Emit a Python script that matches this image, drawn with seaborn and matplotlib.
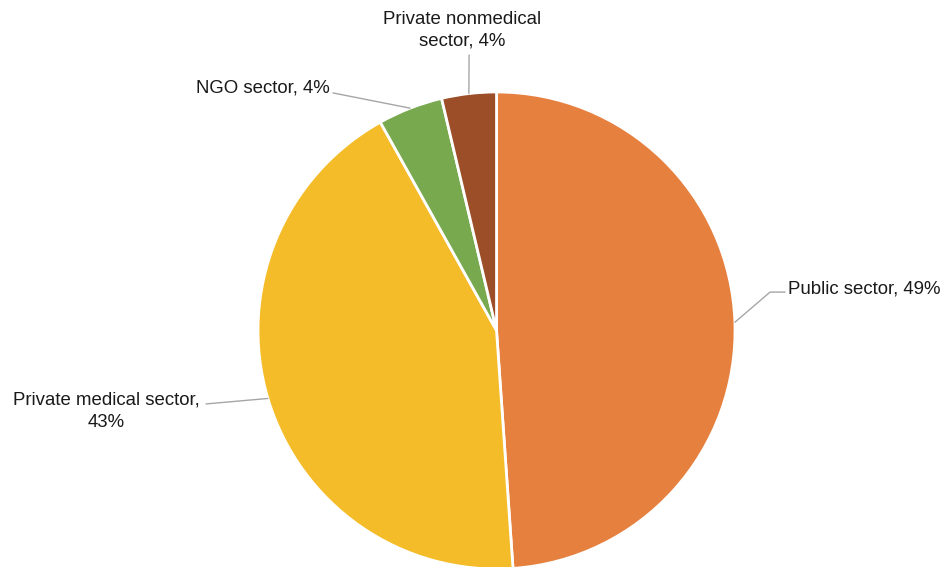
import numpy as np
import seaborn as sns
import matplotlib.pyplot as plt

# Share of sources (%)
sectors = ['Public sector', 'Private medical sector', 'NGO sector', 'Private nonmedical sector']
shares = [48.9, 43.0, 4.4, 3.7]
colors = ['#E6803F', '#F5BC2A', '#78A94F', '#9C4E29']

sns.set_theme(style='white')
plt.rcParams['font.family'] = ['Liberation Sans', 'DejaVu Sans']

fig = plt.figure(figsize=(9.42, 5.67), dpi=100)
ax = fig.add_axes([0.2739, -0.0035, 0.5064, 0.8413])

wedges, _ = ax.pie(shares, colors=colors, startangle=90, counterclock=False,
                   wedgeprops=dict(edgecolor='white', linewidth=2))
ax.set_xlim(-1, 1)
ax.set_ylim(-1, 1)
ax.set_aspect('equal')
ax.axis('off')

# label text, text anchor, leader line end points (in pie radius units)
label_text = [f"{s}, {round(v):.0f}%" for s, v in zip(sectors, shares)]
label_text[1] = f"Private medical sector,\n{round(shares[1]):.0f}%"
label_text[3] = f"Private nonmedical\nsector, {round(shares[3]):.0f}%"
text_pos = [(1.222, 0.174, 'left'), (-1.637, -0.338, 'center'),
            (-0.698, 1.017, 'right'), (-0.145, 1.258, 'center')]
leaders = [[(1.147, 0.161), (1.21, 0.161)], [(-1.218, -0.308)],
           [(-0.686, 0.996)], [(-0.115, 1.155)]]

for w, txt, (tx, ty, ha), pts in zip(wedges, label_text, text_pos, leaders):
    mid = np.deg2rad((w.theta1 + w.theta2) / 2)
    xs = [np.cos(mid)] + [p[0] for p in pts]
    ys = [np.sin(mid)] + [p[1] for p in pts]
    ax.plot(xs, ys, color='#A6A6A6', linewidth=1, clip_on=False)
    ax.text(tx, ty, txt, ha=ha, va='center', fontsize=13.4, color='#1a1a1a',
            multialignment='center', clip_on=False, linespacing=1.38)

fig.savefig('out.png', dpi=100)
